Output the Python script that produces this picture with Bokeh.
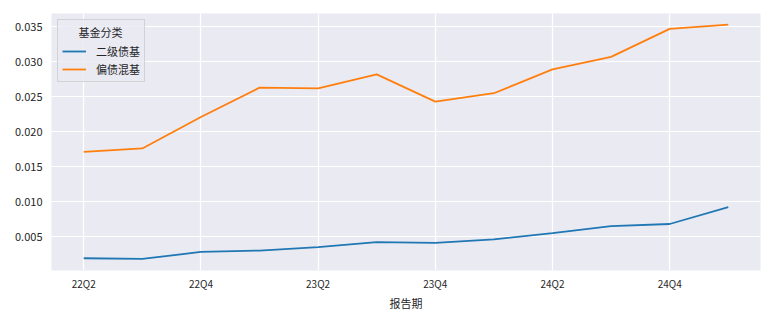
from bokeh.plotting import figure
from bokeh.models import FixedTicker, Legend, LegendItem, Range1d
from bokeh.embed import file_html
from bokeh.resources import INLINE

periods = ["22Q2", "22Q3", "22Q4", "23Q1", "23Q2", "23Q3", "23Q4", "24Q1", "24Q2", "24Q3", "24Q4", "25Q1"]
secondary_bond = [0.0019, 0.0018, 0.0028, 0.0030, 0.0035, 0.0042, 0.0041, 0.0046, 0.0055, 0.0065, 0.0068, 0.0092]
hybrid_bond = [0.0171, 0.0176, 0.0221, 0.0263, 0.0262, 0.0282, 0.0243, 0.0255, 0.0289, 0.0307, 0.0347, 0.0353]
series_names = ["二级债基", "偏债混基"]
legend_title = "基金分类"
x_label = "报告期"
y_ticks = [0.005, 0.010, 0.015, 0.020, 0.025, 0.030, 0.035]

FONT = "Noto Sans CJK SC"
TXT = "#262626"

xs = list(range(len(periods)))

p = figure(width=772, height=317, output_backend="svg", toolbar_location=None,
           frame_width=709, frame_height=257,
           min_border_left=51, min_border_right=12, min_border_top=13, min_border_bottom=47,
           x_range=Range1d(-0.55, 11.55), y_range=Range1d(0.00015, 0.0369))
p.background_fill_color = "#eaeaf2"
p.border_fill_color = "white"
p.outline_line_color = None

p.grid.grid_line_color = "white"
p.grid.grid_line_width = 1.2

r1 = p.line(xs, secondary_bond, line_color="#1f77b4", line_width=1.8)
r2 = p.line(xs, hybrid_bond, line_color="#ff7f0e", line_width=1.8)

p.xaxis.ticker = FixedTicker(ticks=xs[::2])
p.xaxis.major_label_overrides = {i: periods[i] for i in xs}
p.yaxis.ticker = FixedTicker(ticks=y_ticks)
p.yaxis.major_label_overrides = {t: f"{t:.3f}" for t in y_ticks}

for ax in (p.xaxis, p.yaxis):
    ax.axis_line_color = None
    ax.major_tick_line_color = None
    ax.minor_tick_line_color = None
    ax.major_tick_out = 0
    ax.major_tick_in = 0
    ax.minor_tick_out = 0
    ax.minor_tick_in = 0
    ax.major_label_text_font = FONT
    ax.major_label_text_color = TXT
    ax.axis_label_text_font = FONT
    ax.axis_label_text_color = TXT
p.yaxis.major_label_text_font_size = "11px"
p.xaxis.major_label_text_font_size = "10px"
p.yaxis.major_label_standoff = 9
p.xaxis.major_label_standoff = 5
p.xaxis.axis_label = x_label
p.xaxis.axis_label_text_font_size = "11px"
p.xaxis.axis_label_text_font_style = "normal"
p.xaxis.axis_label_standoff = 1

legend = Legend(items=[LegendItem(label=series_names[0], renderers=[r1]),
                       LegendItem(label=series_names[1], renderers=[r2])],
                location="top_left", title="\u3000\u2002" + legend_title)
legend.margin = 6
legend.padding = 4
legend.spacing = 2
legend.glyph_width = 24
legend.glyph_height = 14
legend.label_height = 14
legend.label_standoff = 10
legend.title_standoff = 3
legend.label_text_font = FONT
legend.label_text_font_size = "11px"
legend.label_text_color = TXT
legend.title_text_font = FONT
legend.title_text_font_size = "11px"
legend.title_text_font_style = "normal"
legend.title_text_color = TXT
legend.background_fill_color = "#eaeaf2"
legend.background_fill_alpha = 0.8
legend.border_line_color = "#cccccc"
legend.border_line_alpha = 0.8
p.add_layout(legend)

open("out.html", "w").write(file_html(p, INLINE))
